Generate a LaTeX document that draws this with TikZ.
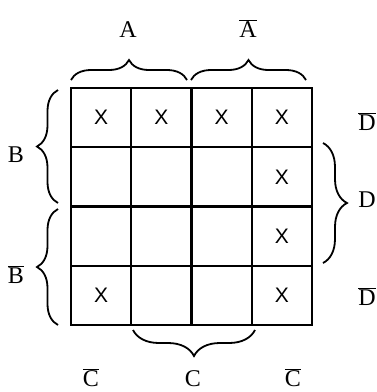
\documentclass[tikz,border=0pt]{standalone}
\usepackage{fontspec}
\setmainfont{Liberation Serif}
\newfontfamily\xfont{Liberation Sans}
\usetikzlibrary{decorations.pathreplacing}
\begin{document}
\begin{tikzpicture}[x=1pt,y=-1pt,
  cellbox/.style={draw,line width=2.4pt,minimum width=60.25pt,minimum height=59.25pt,inner sep=0pt,font=\xfont\fontsize{21}{21}\selectfont},
  lbl/.style={anchor=base,inner sep=0pt,font=\fontsize{24}{24}\selectfont},
  brc/.style={draw,line width=1.8pt,decorate,decoration={brace,amplitude=#1}}]
\useasboundingbox (0,0) rectangle (376,392);
% cells
\foreach \r/\c/\t in {1/1/X,1/2/X,1/3/X,1/4/X,2/1/,2/2/,2/3/,2/4/X,3/1/,3/2/,3/3/,3/4/X,4/1/X,4/2/,4/3/,4/4/X}{
  \node[cellbox] (c\r\c) at ({71+60.25*(\c-0.5)},{88+59.25*(\r-0.5)}) {\t};
}
% brace coordinates
\coordinate (a1) at (71,80);  \coordinate (a2) at (187,80);
\coordinate (na1) at (191,80); \coordinate (na2) at (306,80);
\coordinate (b1) at (58,203); \coordinate (b2) at (58,90);
\coordinate (nb1) at (58,325); \coordinate (nb2) at (58,209);
\coordinate (d1) at (323,143); \coordinate (d2) at (323,263);
\coordinate (cc1) at (255,330); \coordinate (cc2) at (133,330);
\draw[brc=20pt] (a1) -- (a2);
\draw[brc=20pt] (na1) -- (na2);
\draw[brc=21pt] (b1) -- (b2);
\draw[brc=21pt] (nb1) -- (nb2);
\draw[brc=24pt] (d1) -- (d2);
\draw[brc=26pt] (cc1) -- (cc2);
% labels
\node[lbl] (la) at (128,37) {A};
\node[lbl] (lna) at (248,37) {$\overline{\hbox{A}}$};
\node[lbl] (lb) at (16,162) {B};
\node[lbl] (lnb) at (16,283) {$\overline{\hbox{B}}$};
\node[lbl] (lnd1) at (367,130) {$\overline{\hbox{D}}$};
\node[lbl] (ld) at (367,207) {D};
\node[lbl] (lnd2) at (367,305) {$\overline{\hbox{D}}$};
\node[lbl] (lnc1) at (91,386) {$\overline{\hbox{C}}$};
\node[lbl] (lc) at (193,386) {C};
\node[lbl] (lnc2) at (293,386) {$\overline{\hbox{C}}$};
\end{tikzpicture}
\end{document}
